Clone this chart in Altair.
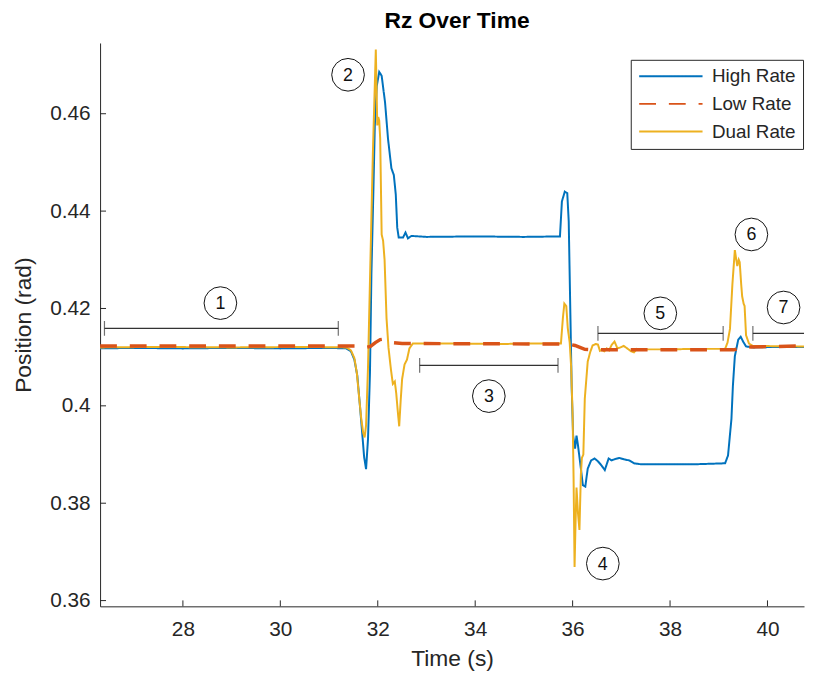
import altair as alt
import pandas as pd

FONT = "Liberation Sans"

# ---------------- data ----------------
high_t = [26.3, 27.0, 28.0, 29.0, 30.0, 31.0, 31.35, 31.45, 31.52, 31.58,
          31.63, 31.68, 31.72, 31.76, 31.80, 31.84, 31.87, 31.91, 31.94, 31.98,
          32.03, 32.08, 32.15, 32.21, 32.28, 32.33, 32.37, 32.40, 32.43, 32.52,
          32.57, 32.62, 32.69, 33.0, 34.0, 35.0, 35.74, 35.78, 35.84, 35.89,
          35.92, 35.95, 35.98, 36.01, 36.05, 36.08, 36.11, 36.17, 36.21, 36.26,
          36.31, 36.38, 36.45, 36.52, 36.59, 36.66, 36.74, 36.80, 36.88, 36.96,
          37.06, 37.16, 37.26, 37.40, 37.94, 38.5, 39.13, 39.19, 39.26, 39.29,
          39.33, 39.40, 39.45, 39.50, 39.56, 39.70, 40.2, 40.75]
high_v = [0.4118, 0.4119, 0.4118, 0.4119, 0.4118, 0.4119, 0.4118, 0.4112, 0.4095, 0.4062,
          0.4005, 0.3945, 0.3895, 0.3870, 0.3932, 0.4068, 0.4272, 0.4440, 0.4576, 0.4657,
          0.4686, 0.4678, 0.4623, 0.4549, 0.4488, 0.4474, 0.4434, 0.4366, 0.4346, 0.4346,
          0.4356, 0.4344, 0.4349, 0.4347, 0.4348, 0.4347, 0.4348, 0.4420, 0.4440, 0.4437,
          0.4379, 0.4210, 0.4041, 0.3939, 0.3912, 0.3939, 0.3919, 0.3871, 0.3837, 0.3834,
          0.3871, 0.3888, 0.3892, 0.3886, 0.3878, 0.3868, 0.3892, 0.3888, 0.3891, 0.3893,
          0.3890, 0.3888, 0.3882, 0.3880, 0.3880, 0.3880, 0.3882, 0.3898, 0.3973, 0.4041,
          0.4102, 0.4136, 0.4142, 0.4132, 0.4122, 0.4120, 0.4121, 0.4121]

low_t = [26.3, 31.55, 31.65, 31.75, 31.85, 31.95, 32.05, 32.12, 32.20, 32.30,
         32.50, 35.80, 35.95, 36.05, 36.15, 36.25, 36.50, 39.30, 39.45, 39.60,
         40.75]
low_v = [0.4123, 0.4123, 0.4121, 0.4120, 0.4122, 0.4130, 0.4136, 0.4137, 0.4134, 0.4130,
         0.4128, 0.4127, 0.4126, 0.4124, 0.4120, 0.4116, 0.4115, 0.4115, 0.4118, 0.4121,
         0.4123]

dual_t = [26.3, 27.5, 29.0, 30.5, 31.35, 31.45, 31.52, 31.57, 31.62, 31.66,
          31.70, 31.73, 31.76, 31.80, 31.85, 31.90, 31.96, 31.99, 32.01, 32.03,
          32.05, 32.08, 32.11, 32.14, 32.18, 32.22, 32.27, 32.31, 32.35, 32.38,
          32.41, 32.44, 32.47, 32.50, 32.55, 32.60, 32.65, 32.72, 33.5, 34.5,
          35.2, 35.76, 35.80, 35.83, 35.87, 35.90, 35.94, 35.97, 36.00, 36.02,
          36.04, 36.06, 36.08, 36.11, 36.14, 36.17, 36.19, 36.22, 36.25, 36.31,
          36.36, 36.41, 36.47, 36.52, 36.56, 36.60, 36.65, 36.70, 36.75, 36.80,
          36.86, 36.92, 36.98, 37.05, 37.12, 37.20, 37.26, 37.32, 37.50, 38.00,
          38.50, 39.13, 39.18, 39.23, 39.28, 39.33, 39.36, 39.38, 39.41, 39.43,
          39.46, 39.48, 39.51, 39.53, 39.56, 39.62, 39.70, 40.75]
dual_v = [0.4120, 0.4121, 0.4120, 0.4121, 0.4120, 0.4114, 0.4098, 0.4068, 0.4015, 0.3975,
          0.3945, 0.3935, 0.3960, 0.4080, 0.4300, 0.4520, 0.4732, 0.4576, 0.4593, 0.4586,
          0.4549, 0.4352, 0.4339, 0.4300, 0.4180, 0.4120, 0.4075, 0.4045, 0.4050, 0.4025,
          0.3990, 0.3958, 0.4010, 0.4055, 0.4085, 0.4095, 0.4118, 0.4128, 0.4128, 0.4127,
          0.4128, 0.4128, 0.4180, 0.4210, 0.4205, 0.4160, 0.4130, 0.4080, 0.3980, 0.3850,
          0.3669, 0.3760, 0.3832, 0.3780, 0.3745, 0.3860, 0.3893, 0.3900, 0.4015, 0.4091,
          0.4110, 0.4124, 0.4127, 0.4126, 0.4113, 0.4115, 0.4112, 0.4118, 0.4114, 0.4125,
          0.4132, 0.4118, 0.4120, 0.4123, 0.4118, 0.4112, 0.4110, 0.4117, 0.4116, 0.4116,
          0.4117, 0.4117, 0.4130, 0.4158, 0.4250, 0.4320, 0.4300, 0.4287, 0.4300, 0.4295,
          0.4250, 0.4225, 0.4210, 0.4205, 0.4145, 0.4128, 0.4123, 0.4122]

series_names = ["High Rate", "Low Rate", "Dual Rate"]
series_colors = ["#0072BD", "#D95319", "#EDB120"]

x_ticks = [28, 30, 32, 34, 36, 38, 40]
y_ticks = [0.36, 0.38, 0.40, 0.42, 0.44, 0.46]

note_text = ["1", "2", "3", "4", "5", "6", "7"]
note_t = [28.77, 31.39, 34.28, 36.62, 37.80, 39.67, 40.33]
note_v = [0.4211, 0.4680, 0.4020, 0.3676, 0.4190, 0.4352, 0.4202]

bracket_t1 = [26.39, 32.86, 36.52, 39.70]
bracket_t2 = [31.19, 35.70, 39.09, 40.78]
bracket_v = [0.4159, 0.4083, 0.4149, 0.4149]

# ---------------- tables ----------------
lines = pd.concat([
    pd.DataFrame({"t": high_t, "v": high_v, "series": "High Rate"}),
    pd.DataFrame({"t": low_t, "v": low_v, "series": "Low Rate"}),
    pd.DataFrame({"t": dual_t, "v": dual_v, "series": "Dual Rate"}),
], ignore_index=True)

notes = pd.DataFrame({"t": note_t, "v": note_v, "label": note_text})
brackets = pd.DataFrame({"t": bracket_t1, "t2": bracket_t2, "v": bracket_v})
caps = pd.DataFrame({"t": bracket_t1 + bracket_t2, "v": bracket_v + bracket_v})
xt = pd.DataFrame({"t": x_ticks})
yt = pd.DataFrame({"v": y_ticks})

W, H = 711, 569
X_DOM = [26.3, 40.75]
Y_DOM = [0.35882, 0.47453]
AX = "#262626"

xscale = alt.Scale(domain=X_DOM, nice=False, zero=False)
yscale = alt.Scale(domain=Y_DOM, nice=False, zero=False)

legend = alt.Legend(
    title=None, orient="none", legendX=536, legendY=17,
    symbolType="M-1,0H7", symbolSize=256, symbolStrokeWidth=2,
    labelOffset=56, labelFontSize=19, labelFont=FONT, labelColor=AX,
    padding=7, rowPadding=8, strokeColor=AX, fillColor="white",
)

enc_color = alt.Color("series:N", scale=alt.Scale(domain=series_names, range=series_colors), legend=legend)
enc_dash = alt.StrokeDash("series:N", scale=alt.Scale(domain=series_names, range=[[1, 0], [17, 13], [1, 0]]), legend=legend)

x_enc = alt.X("t:Q", scale=xscale,
              axis=alt.Axis(values=x_ticks, title="Time (s)", tickSize=0, labelPadding=12,
                            labelFontSize=21, titleFontSize=23, titlePadding=9))
y_enc = alt.Y("v:Q", scale=yscale,
              axis=alt.Axis(values=y_ticks, title="Position (rad)", format="~g", tickSize=0,
                            labelPadding=10, labelFontSize=21, titleFontSize=23, titlePadding=14))

base = alt.Chart(lines)


def series_layer(name, width):
    return base.transform_filter(alt.datum.series == name).mark_line(
        strokeWidth=width, clip=True
    ).encode(x=x_enc, y=y_enc, color=enc_color, strokeDash=enc_dash)


blue = series_layer("High Rate", 2)
yellow = series_layer("Dual Rate", 2)
orange = series_layer("Low Rate", 3.5)

xticks = alt.Chart(xt).mark_rule(color=AX, strokeWidth=1).encode(
    x=alt.X("t:Q", scale=xscale), y=alt.value(H), y2=alt.value(H - 6))
yticks = alt.Chart(yt).mark_rule(color=AX, strokeWidth=1).encode(
    y=alt.Y("v:Q", scale=yscale), x=alt.value(0), x2=alt.value(6))

br = alt.Chart(brackets).mark_rule(color="#333333", strokeWidth=1.2, clip=True).encode(
    x=alt.X("t:Q", scale=xscale), x2="t2:Q", y=alt.Y("v:Q", scale=yscale))
brc = alt.Chart(caps).mark_tick(color="#333333", orient="vertical", size=15, thickness=1.2, clip=True).encode(
    x=alt.X("t:Q", scale=xscale), y=alt.Y("v:Q", scale=yscale))

circ = alt.Chart(notes).mark_point(shape="circle", size=1089, filled=False, color="#111111",
                                  strokeWidth=1, opacity=1).encode(
    x=alt.X("t:Q", scale=xscale), y=alt.Y("v:Q", scale=yscale))
txt = alt.Chart(notes).mark_text(fontSize=18, font=FONT, color="#111111", baseline="middle",
                                 align="center", dy=1).encode(
    x=alt.X("t:Q", scale=xscale), y=alt.Y("v:Q", scale=yscale), text="label:N")

chart = alt.layer(blue, yellow, orange, xticks, yticks, br, brc, circ, txt).properties(
    width=W, height=H,
    title=alt.Title("Rz Over Time", fontSize=23, font=FONT, fontWeight="bold", color="#000000",
                    anchor="middle", frame="group", offset=10, dx=5),
    autosize=alt.AutoSizeParams(type="none"),
    padding={"left": 93, "top": 32, "right": 2, "bottom": 64},
).configure_view(stroke=None).configure_axis(
    domainColor=AX, domainWidth=1, labelColor=AX, titleColor=AX,
    labelFont=FONT, titleFont=FONT, titleFontWeight="normal", grid=False,
)

chart.save("out.html", embed_options={"renderer": "svg", "actions": False})
